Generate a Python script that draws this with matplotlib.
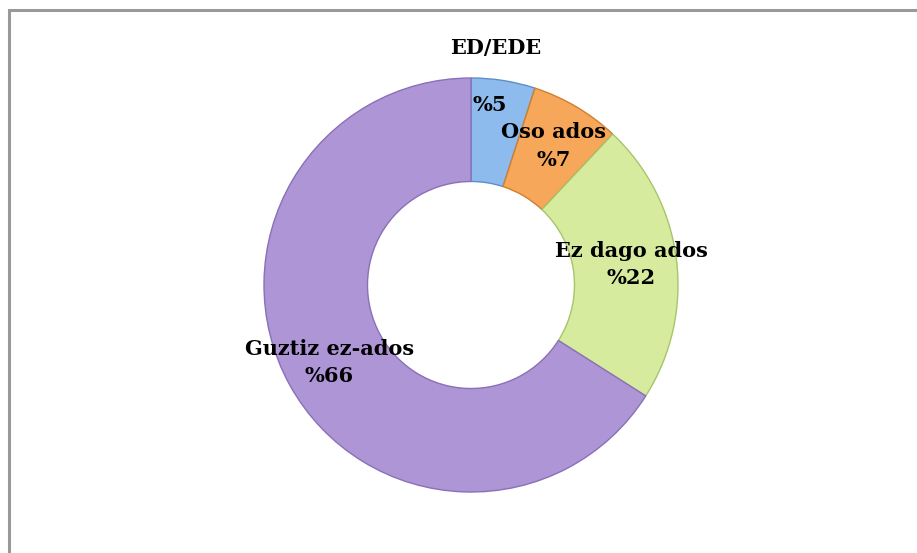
import matplotlib.pyplot as plt
import numpy as np
from matplotlib.patches import Rectangle

# data
categories = ['ED/EDE', 'Oso ados', 'Ez dago ados', 'Guztiz ez-ados']
values = [5, 7, 22, 66]
colors = ['#8dbbee', '#f7a75a', '#d6eb9e', '#ad95d6']
edges = ['#5f8fc4', '#d07f30', '#a9c46a', '#8a70b8']

W, H = 917, 553
fig = plt.figure(figsize=(W / 100, H / 100), dpi=100)
fig.patch.set_facecolor('white')

# grey frame (runs off right and bottom edges)
fig.add_artist(Rectangle((9 / W, -0.05), 1.2, 1 - 10 / H + 0.05, transform=fig.transFigure,
                         fill=False, edgecolor='#999999', linewidth=2.2))

cx, cy, R = 471, 285, 207
ax = fig.add_axes([(cx - R) / W, (H - cy - R) / H, 2 * R / W, 2 * R / H])
wedges, _ = ax.pie(values, colors=colors, startangle=90, counterclock=False, radius=1,
                   wedgeprops=dict(width=0.5, linewidth=1.0))
for w, ec in zip(wedges, edges):
    w.set_edgecolor(ec)
ax.set_xlim(-1, 1)
ax.set_ylim(-1, 1)
ax.set_aspect('equal')
ax.axis('off')

font = dict(family='DejaVu Serif', fontweight='bold', fontsize=15, color='black')
for i, w in enumerate(wedges):
    th = np.deg2rad((w.theta1 + w.theta2) / 2)
    pct = '%%%d' % values[i]
    if i == 0:
        # first label: name above the ring, value inside
        ax.text(1.15 * np.cos(np.deg2rad(84)), 1.15 * np.sin(np.deg2rad(84)), categories[i],
                ha='center', va='center', clip_on=False, **font)
        ax.text(0.875 * np.cos(np.deg2rad(84)), 0.875 * np.sin(np.deg2rad(84)), pct,
                ha='center', va='center', **font)
    else:
        r = 0.78
        ax.text(r * np.cos(th), r * np.sin(th), categories[i] + '\n' + pct,
                ha='center', va='center', linespacing=1.45, clip_on=False, **font)

fig.savefig('out.png', dpi=100)
